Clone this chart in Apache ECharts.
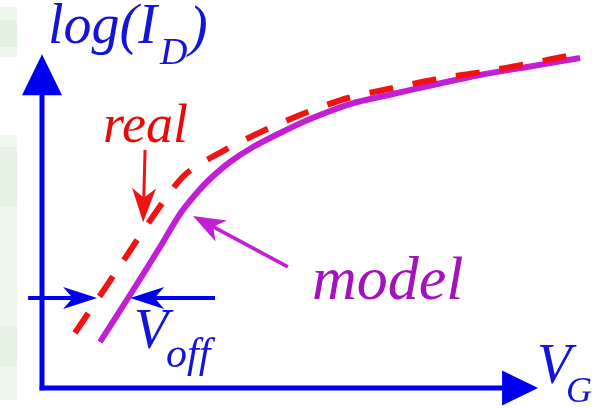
<!DOCTYPE html>
<html>
<head>
<meta charset="utf-8">
<script src="https://cdn.jsdelivr.net/npm/echarts@6/dist/echarts.min.js"></script>
<style>
  html, body { margin: 0; padding: 0; background: #ffffff; }
  #chart { width: 598px; height: 408px; }
</style>
</head>
<body>
<div id="chart"></div>
<script>
// Measured device: gate voltage (arb. units) vs log of drain current
const realVG    = [0.688, 1.627, 2.524, 3.025, 3.776, 4.611, 5.487, 6.384, 7.323, 8.241, 9.180, 10.119, 11.266];
const realLogID = [1.758, 3.899, 5.944, 6.871, 7.574, 8.213, 8.789, 9.268, 9.588, 9.875, 10.099, 10.355, 10.706];

// Compact model of the same device
const modelVG    = [1.210, 1.836, 2.462, 2.879, 3.192, 3.505, 3.922, 4.402, 4.966, 5.591, 6.426, 7.323, 8.158, 9.138, 10.119, 11.225];
const modelLogID = [1.470, 2.972, 4.506, 5.561, 6.168, 6.679, 7.223, 7.702, 8.150, 8.597, 9.076, 9.396, 9.684, 10.003, 10.259, 10.546];

// Axis arrows run from the origin out to these lengths
const vgAxisEnd = 10.35;
const logIdAxisEnd = 10.67;

// Pointer arrows, each [fromVG, fromLogID, toVG, toLogID]
const realPointer  = [2.15, 7.61, 2.11, 5.30];
const modelPointer = [5.13, 3.87, 3.15, 5.50];
// Offset-voltage bracket: two arrows on one current level, pointing at the two curves
const offLevel = 2.88;
const offLeft  = [-0.29, 1.15];
const offRight = [3.61, 1.84];

const BLUE = '#0000f0';
const TEXT_BLUE = '#1414d8';
const RED = '#f21212';
const MAGENTA = '#c21ed6';
const SERIF = '"Liberation Serif", "Times New Roman", serif';

const zip = (xs, ys) => xs.map((x, i) => [x, ys[i]]);

// Straight line finished with an arrowhead at its "to" end.
// notch = 1 gives a plain triangle, smaller values a barbed head.
function arrowRenderer(color, lineWidth, headLen, headHalf, notch) {
  return function (params, api) {
    const p1 = api.coord([api.value(0), api.value(1)]);
    const p2 = api.coord([api.value(2), api.value(3)]);
    const dx = p2[0] - p1[0], dy = p2[1] - p1[1];
    const len = Math.hypot(dx, dy);
    const ux = dx / len, uy = dy / len;
    const nx = -uy, ny = ux;
    const bx = p2[0] - ux * headLen, by = p2[1] - uy * headLen;
    const mx = p2[0] - ux * headLen * notch, my = p2[1] - uy * headLen * notch;
    return {
      type: 'group',
      children: [
        { type: 'line', shape: { x1: p1[0], y1: p1[1], x2: mx + ux * 2, y2: my + uy * 2 },
          style: { stroke: color, lineWidth: lineWidth } },
        { type: 'polygon',
          shape: { points: [p2, [bx + nx * headHalf, by + ny * headHalf], [mx, my], [bx - nx * headHalf, by - ny * headHalf]] },
          style: { fill: color } }
      ]
    };
  };
}

const arrowSeries = (data, color, lineWidth, headLen, headHalf, notch) => ({
  type: 'custom',
  coordinateSystem: 'cartesian2d',
  clip: false,
  silent: true,
  z: 5,
  renderItem: arrowRenderer(color, lineWidth, headLen, headHalf, notch),
  data: data
});

const txt = (text, x, y, size, color) => ({
  type: 'text', x: x, y: y, silent: true, z: 10,
  style: { text: text, font: 'italic ' + size + 'px ' + SERIF, fill: color, align: 'left', verticalAlign: 'middle' }
});

const strip = (y, h, fill) => ({ type: 'rect', silent: true, z: 0, shape: { x: 0, y: y, width: 17, height: h }, style: { fill: fill } });

const hiddenAxis = (max) => ({
  type: 'value', min: 0, max: max,
  axisLine: { show: false }, axisTick: { show: false }, axisLabel: { show: false }, splitLine: { show: false }
});

const chart = echarts.init(document.getElementById('chart'), null, { renderer: 'canvas' });

chart.setOption({
  animation: false,
  backgroundColor: '#ffffff',
  grid: { left: 42, right: 0, top: 0, bottom: 20 },
  xAxis: hiddenAxis(11.6),
  yAxis: hiddenAxis(12.4),
  series: [
    // coordinate axes
    arrowSeries([[-0.05, 0, vgAxisEnd, 0]], BLUE, 5, 36, 17.5, 1),
    arrowSeries([[0, -0.07, 0, logIdAxisEnd]], BLUE, 5, 41, 20, 1),
    {
      name: 'model', type: 'line', data: zip(modelVG, modelLogID),
      smooth: 0.3, showSymbol: false, clip: false, z: 2,
      lineStyle: { color: MAGENTA, width: 6, cap: 'butt' }
    },
    {
      name: 'real', type: 'line', data: zip(realVG, realLogID),
      smooth: 0.3, showSymbol: false, clip: false, z: 3,
      lineStyle: { color: RED, width: 6, type: [24, 20], cap: 'butt' }
    },
    arrowSeries([realPointer], RED, 3, 34, 12, 0.72),
    arrowSeries([modelPointer], MAGENTA, 3.5, 32, 12, 0.72),
    arrowSeries([
      [offLeft[0], offLevel, offLeft[1], offLevel],
      [offRight[0], offLevel, offRight[1], offLevel]
    ], BLUE, 4, 34, 11, 0.72)
  ],
  graphic: [
    strip(7, 13, '#eef7ee'), strip(20, 27, '#e3f1e1'), strip(47, 10, '#eef7ee'),
    strip(135, 12, '#f0f8ef'), strip(147, 60, '#e6f3e4'), strip(207, 120, '#eef7ec'),
    strip(327, 40, '#e6f3e4'), strip(367, 33, '#eff8ee'),
    txt('log(I', 48, 28, 56, TEXT_BLUE),
    txt('D', 160, 54, 38, TEXT_BLUE),
    txt(')', 189, 30, 56, TEXT_BLUE),
    txt('real', 103, 128, 54, '#e60a0a'),
    txt('model', 312, 283, 62, '#a412bc'),
    txt('V', 134, 333, 56, TEXT_BLUE),
    txt('off', 166, 356, 42, TEXT_BLUE),
    txt('V', 537, 368, 56, TEXT_BLUE),
    txt('G', 566, 393, 36, TEXT_BLUE)
  ]
});
</script>
</body>
</html>
